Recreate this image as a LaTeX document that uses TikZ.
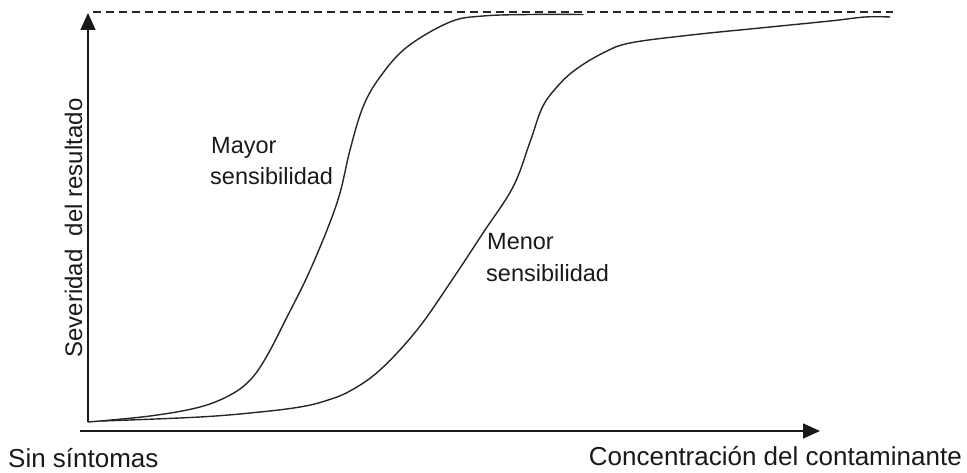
\documentclass[tikz,border=0pt]{standalone}
\usepackage{fontspec}
\setmainfont{Liberation Sans}
\usetikzlibrary{arrows.meta}
\begin{document}
\begin{tikzpicture}[x=1pt,y=-1pt,
  axisline/.style={line width=1.5pt,draw=black!90,-{Triangle[length=17pt,width=15pt]}},
  curveline/.style={line width=1.4pt,draw=black!85,line cap=round},
  limitline/.style={line width=1.3pt,draw=black!85,dash pattern=on 8pt off 5pt},
  lbl/.style={inner sep=0pt,font=\fontsize{23.5}{27}\selectfont,text=black!90},
  axlbl/.style={inner sep=0pt,font=\fontsize{26}{30}\selectfont,text=black!90}]
\useasboundingbox (0,0) rectangle (967,473);
% axes
\coordinate (yb) at (88,422);
\coordinate (yt) at (88,13);
\coordinate (xl) at (80,431);
\coordinate (xr) at (820,431);
\draw[axisline] (yb) -- (yt);
\draw[axisline] (xl) -- (xr);
% dashed maximum
\coordinate (dl) at (93,12);
\coordinate (dr) at (893,12);
\draw[limitline] (dl) -- (dr);
% Mayor sensibilidad curve
\draw[curveline] plot[smooth,tension=0.6] coordinates {
 (88,422) (150,416) (200,407) (232,394) (252,378) (268,354) (287,317) (307,277)
 (327,230) (340,193) (350,150) (363,107) (380,77) (407,47) (450,22)
 (483,16) (530,14.5) (583,14.5)};
% Menor sensibilidad curve
\draw[curveline] plot[smooth,tension=0.6] coordinates {
 (102,421) (200,417) (260,412) (300,407) (325,401) (350,391) (380,370) (417,330) (450,283)
 (483,233) (513,187) (530,142) (542,108) (556,88) (575,70) (603,53) (630,43)
 (691,35) (760,28) (830,21) (865,17) (890,17)};
% labels
\node[lbl,anchor=base west] (may1) at (211,154) {Mayor};
\node[lbl,anchor=base west] (may2) at (210,185) {sensibilidad};
\node[lbl,anchor=base west] (men1) at (487,250) {Menor};
\node[lbl,anchor=base west] (men2) at (486,282) {sensibilidad};
\node[lbl,font=\fontsize{24}{28}\selectfont,anchor=base,rotate=90] (ylab) at (82,228) {Severidad\ \ del resultado};
\node[axlbl,anchor=base west] (sin) at (8,467) {Sin síntomas};
\node[axlbl,anchor=base east] (conc) at (962,465) {Concentración del contaminante};
\end{tikzpicture}
\end{document}
